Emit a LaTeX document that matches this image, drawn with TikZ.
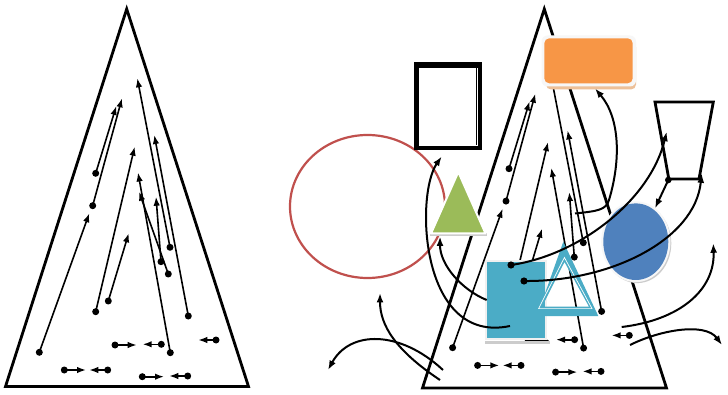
\documentclass[tikz,border=0pt]{standalone}
\usetikzlibrary{arrows.meta}

\definecolor{redline}{HTML}{C0504D}
\definecolor{leafgreen}{HTML}{9BBB59}
\definecolor{aquablue}{HTML}{4BACC6}
\definecolor{tangerine}{HTML}{F79646}
\definecolor{steelblue}{HTML}{4F81BD}

\tikzset{
  coneedge/.style={line width=2.8pt, line join=miter},
  pinarrow/.style={line width=1.6pt, -{Latex[length=9pt,width=6.5pt]}},
  curvelink/.style={line width=2pt, -{Latex[length=9.5pt,width=7pt]}},
}

% a straight arrow that starts at a round dot
\newcommand\dotpin[3]{%
  \coordinate (#1s) at (#2);
  \coordinate (#1e) at (#3);
  \draw[pinarrow] (#1s) -- (#1e);
  \fill (#1s) circle (3.5pt);
}

% the set of dotted arrows inside a cone (without the extra ninth one)
\newcommand\pinset[1]{%
  \dotpin{#1a1}{39.3,352.3}{89.3,213.3}
  \dotpin{#1a2}{92.7,205.7}{122,98.3}
  \dotpin{#1a3}{95.7,173.3}{116.3,106}
  \dotpin{#1a4}{95.7,311.7}{134.7,146.7}
  \dotpin{#1a5}{108.3,301}{128.7,233.3}
  \dotpin{#1a6}{170,247.3}{137.3,78.3}
  \dotpin{#1a7}{188.3,316}{154.3,135}
  \dotpin{#1a8}{161,261.7}{156,196.7}
  \dotpin{#1a10}{170.3,352.7}{138,172.5}
  \dotpin{#1h1}{115,345}{136.7,345}
  \dotpin{#1h2}{161.3,344.3}{142.7,344.3}
  \dotpin{#1h3}{216,340}{198.3,340}
  \dotpin{#1h4}{64.3,370}{86,370}
  \dotpin{#1h5}{107.7,370}{89.3,370}
  \dotpin{#1h6}{142.3,376.7}{164,376.7}
  \dotpin{#1h7}{187.7,376}{169.3,376}
}

\begin{document}
\begin{tikzpicture}[x=1pt,y=-1pt]
\useasboundingbox (0,0) rectangle (728,395);
\fill[white] (0,0) rectangle (728,395);

% ---------------- left cone ----------------
\coordinate (LA) at (126.7,9);
\coordinate (LB) at (5.5,386.5);
\coordinate (LC) at (248.5,386.5);
\draw[coneedge] (LA) -- (LB) -- (LC) -- cycle;
\pinset{L}
\dotpin{La9}{168.3,274}{139,191.7}

% ---------------- right cone ----------------
\coordinate (RA) at (544.3,9);
\coordinate (RB) at (422.5,388);
\coordinate (RC) at (666.5,388);
\draw[coneedge] (RA) -- (RB) -- (RC) -- cycle;
\begin{scope}[shift={(413.3,-4.6)}]
  \pinset{R}
\end{scope}

% red ring
\draw[redline, line width=2.2pt] (367.5,206.5) ellipse [x radius=77.5, y radius=71.5];

% heavy black frame
\draw[line width=5.5pt] (416.7,65.2) rectangle (478.9,147.3);
\draw[white, line width=0.7pt] (477.3,68.3) -- (477.3,145.6) -- (419.4,145.6);

% green triangle
\fill[gray!40] (430,233) rectangle (487,236.5);
\draw[white, line width=2pt, fill=leafgreen, line join=round]
  (458.3,172) -- (485.5,233.5) -- (431,233.5) -- cycle;

% teal square
\fill[gray!40] (485,340.5) rectangle (550,344.3);
\draw[white!88!gray, line width=2pt, fill=aquablue] (486,261) rectangle (546,338.5);

% teal outlined triangle (thick band with a fine white inner line)
\fill[aquablue, even odd rule]
  (563.3,241.7) -- (598.3,316) -- (537,316) -- cycle
  (564.5,262) -- (589,306.7) -- (542,306.7) -- cycle;
\draw[white, line width=0.7pt, line join=miter]
  (564.4,257.5) -- (592,308.6) -- (538.6,308.6) -- cycle;

% orange rounded box
\fill[tangerine!55!brown!55, rounded corners=5pt] (546,42) rectangle (636,89.5);
\fill[white!94!gray, rounded corners=6pt] (541.5,35.5) rectangle (636,86.5);
\fill[tangerine, rounded corners=5pt] (544.3,38.3) rectangle (632.7,83.3);

% blue disc
\fill[gray!40] (637.3,243.3) ellipse [x radius=34, y radius=39.8];
\fill[white!94!gray] (635.8,241.7) ellipse [x radius=34.6, y radius=40.4];
\fill[steelblue] (635.8,241.7) ellipse [x radius=32.5, y radius=38.3];

% open trapezoid
\draw[line width=2.8pt, line join=miter]
  (655,102) -- (713.3,102) -- (699,179) -- (668.8,179) -- cycle;

% ---------------- curved connectors ----------------
\coordinate (Sa) at (511,265);   \coordinate (Sb) at (666.7,131.7);
\coordinate (Ga) at (524,281);   \coordinate (Gb) at (701.7,173.3);
\coordinate (Ta) at (668.3,180); \coordinate (Tb) at (655,208.3);
\coordinate (Oa) at (575,213.5); \coordinate (Om) at (609,200);
\coordinate (Ob) at (595,88.5);
\coordinate (Ca) at (486.7,300); \coordinate (Cb) at (440,236.5);
\coordinate (Da) at (510,326);   \coordinate (Db) at (441.7,156.5);
\coordinate (P1a) at (440,380);  \coordinate (P1b) at (380,293);
\coordinate (P2a) at (443,370);  \coordinate (P2b) at (328,370);
\coordinate (Q1a) at (621.7,327);\coordinate (Q1b) at (713.3,243.3);
\coordinate (Q2a) at (630,345);  \coordinate (Q2b) at (722,345);

\draw[curvelink] (Sa) .. controls (580,255) and (650,200) .. (Sb);
\fill (Sa) circle (3.6pt);
\draw[curvelink] (Ga) .. controls (610,282) and (695,240) .. (Gb);
\fill (Ga) circle (3.6pt);
\draw[curvelink] (Ta) -- (Tb);
\fill (Ta) circle (3.3pt);
\draw[curvelink] (Oa) .. controls (598,211) and (606,210) .. (Om)
  .. controls (621,160) and (620,118) .. (Ob);
\draw[curvelink] (Ca) .. controls (462,290) and (440,265) .. (Cb);
\draw[curvelink] (Da) .. controls (420,345) and (415,195) .. (Db);
\draw[curvelink] (P1a) .. controls (395,350) and (380,325) .. (P1b);
\draw[curvelink] (P2a) .. controls (400,330) and (350,330) .. (P2b);
\draw[curvelink] (Q1a) .. controls (680,320) and (715,290) .. (Q1b);
\draw[curvelink] (Q2a) .. controls (660,330) and (705,322) .. (Q2b);

\end{tikzpicture}
\end{document}
